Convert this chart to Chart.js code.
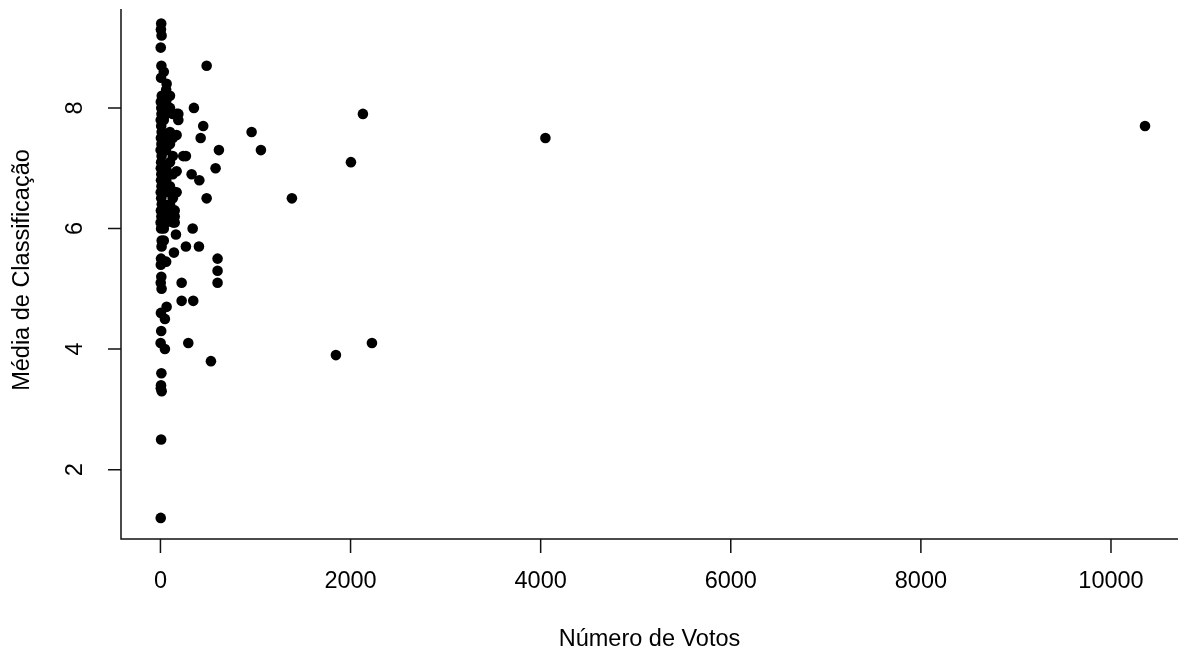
<!DOCTYPE html>
<html>
<head>
<meta charset="utf-8">
<script src="https://cdn.jsdelivr.net/npm/chart.js@4.4.1/dist/chart.umd.min.js"></script>
<style>
  html, body { margin: 0; padding: 0; background: #ffffff; }
  #wrap { width: 1179px; height: 652px; }
</style>
</head>
<body>
<div id="wrap"><canvas id="c" width="1179" height="652"></canvas></div>
<script>
// ---- data ----
const votes = [
  10358, 4050, 2130, 2004, 1383, 959, 1057, 1846, 2225, 531,
  486, 352, 450, 423, 615, 580, 268, 328, 409, 486,
  339, 268, 405, 601, 601, 601, 223, 223, 345, 293,
  65, 188, 170, 188, 170, 240, 170, 153, 170, 135,
  163, 142, 65, 47, 47, 12, 60,
  8, 5, 12, 3, 10, 6, 14, 4, 9, 11,
  3, 8, 13, 5, 10, 2, 12, 7, 4, 9,
  6, 11, 3, 8, 14, 5, 10, 2, 7, 13,
  6, 4, 9, 3, 12, 5, 8, 2, 10, 6,
  13, 4, 7, 3,
  60, 60, 60, 60, 60, 60, 60, 60, 60, 60,
  100, 100, 100, 100, 100, 100, 100, 100, 100,
  130, 130, 130, 130, 130, 130, 130,
  35, 35, 35, 35, 35, 35, 35, 35, 35,
  150, 150, 150
];
const ratings = [
  7.7, 7.5, 7.9, 7.1, 6.5, 7.6, 7.3, 3.9, 4.1, 3.8,
  8.7, 8.0, 7.7, 7.5, 7.3, 7.0, 7.2, 6.9, 6.8, 6.5,
  6.0, 5.7, 5.7, 5.5, 5.3, 5.1, 5.1, 4.8, 4.8, 4.1,
  8.4, 7.9, 7.9, 7.8, 7.55, 7.2, 6.95, 6.6, 6.6, 6.1,
  5.9, 5.6, 4.7, 4.5, 4.0, 5.7, 5.45,
  9.4, 9.3, 9.2, 9.0, 8.7, 8.5, 8.2, 8.1, 8.0, 7.9,
  7.8, 7.7, 7.6, 7.5, 7.4, 7.3, 7.2, 7.1, 7.0, 6.9,
  6.8, 6.7, 6.6, 6.5, 6.4, 6.3, 6.2, 6.1, 6.0, 5.8,
  5.5, 5.4, 5.2, 5.1, 5.0, 4.6, 4.3, 4.1, 3.6, 3.4,
  3.3, 3.35, 2.5, 1.2,
  8.3, 8.1, 7.9, 7.5, 7.3, 7.0, 6.8, 6.6, 6.3, 6.1,
  8.2, 8.0, 7.6, 7.4, 7.1, 6.9, 6.7, 6.4, 6.2,
  7.9, 7.5, 7.2, 6.9, 6.5, 6.3, 6.2,
  8.6, 8.2, 7.8, 7.4, 7.0, 6.7, 6.4, 6.0, 5.8,
  6.3, 6.2, 6.1
];
const xTicks = [0, 2000, 4000, 6000, 8000, 10000];
const yTicks = [2, 4, 6, 8];
const xTitle = "Número de Votos";
const yTitle = "Média de Classificação";

const points = votes.map((v, i) => ({ x: v, y: ratings[i] }));

const FONT = '23.5px "Liberation Sans", Arial, sans-serif';

const rAxes = {
  id: 'rAxes',
  afterDraw(chart) {
    const { ctx, chartArea: a, scales: { x, y } } = chart;
    ctx.save();
    ctx.strokeStyle = '#111';
    ctx.lineWidth = 1.5;
    ctx.beginPath();
    ctx.moveTo(a.left, a.top);
    ctx.lineTo(a.left, a.bottom);
    ctx.lineTo(a.right, a.bottom);
    ctx.stroke();
    ctx.beginPath();
    xTicks.forEach(v => {
      const p = x.getPixelForValue(v);
      ctx.moveTo(p, a.bottom);
      ctx.lineTo(p, a.bottom + 14);
    });
    yTicks.forEach(v => {
      const p = y.getPixelForValue(v);
      ctx.moveTo(a.left, p);
      ctx.lineTo(a.left - 13, p);
    });
    ctx.stroke();

    ctx.fillStyle = '#000';
    ctx.font = FONT;
    ctx.textAlign = 'center';
    ctx.textBaseline = 'middle';
    xTicks.forEach(v => {
      ctx.fillText(String(v), x.getPixelForValue(v), a.bottom + 43);
    });
    ctx.fillText(xTitle, (a.left + a.right) / 2, a.bottom + 101);

    yTicks.forEach(v => {
      ctx.save();
      ctx.translate(a.left - 45, y.getPixelForValue(v));
      ctx.rotate(-Math.PI / 2);
      ctx.fillText(String(v), 0, 0);
      ctx.restore();
    });
    ctx.save();
    ctx.translate(a.left - 98, (a.top + a.bottom) / 2 - 4);
    ctx.rotate(-Math.PI / 2);
    ctx.fillText(yTitle, 0, 0);
    ctx.restore();
    ctx.restore();
  }
};

new Chart(document.getElementById('c'), {
  type: 'scatter',
  data: {
    datasets: [{
      data: points,
      backgroundColor: '#000',
      borderWidth: 0,
      pointRadius: 5.3,
      pointHoverRadius: 5.3
    }]
  },
  options: {
    responsive: false,
    animation: false,
    devicePixelRatio: 1,
    layout: { autoPadding: false, padding: { left: 121, top: 9, right: 1, bottom: 113 } },
    plugins: { legend: { display: false }, tooltip: { enabled: false } },
    scales: {
      x: { type: 'linear', display: false, min: -415, max: 10705 },
      y: { type: 'linear', display: false, min: 0.85, max: 9.64 }
    }
  },
  plugins: [rAxes]
});
</script>
</body>
</html>
